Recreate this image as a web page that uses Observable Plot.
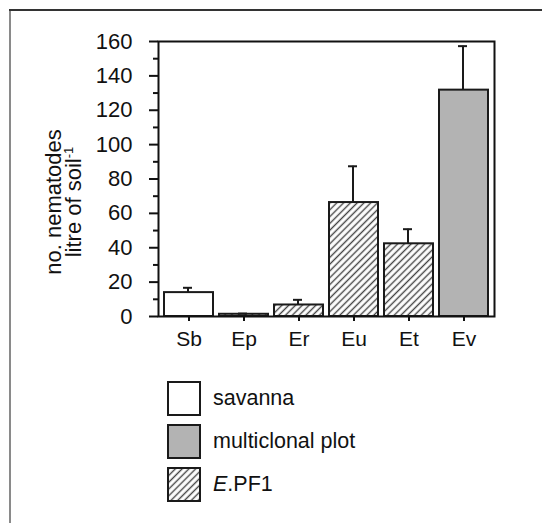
<!DOCTYPE html>
<html><head><meta charset="utf-8">
<script src="https://cdn.jsdelivr.net/npm/d3@7"></script>
<script src="https://cdn.jsdelivr.net/npm/@observablehq/plot@0.6"></script>
<style>
html,body{margin:0;padding:0;background:#fff;}
#page{position:relative;width:542px;height:523px;overflow:hidden;font-family:"Liberation Sans",Arial,sans-serif;background:#fff;}
#bl{position:absolute;left:9px;top:9px;width:2px;bottom:0;background:#8a8a8a;}
#bt{position:absolute;left:9px;top:9px;height:2px;right:0;background:#333;}
#chart{position:absolute;left:0;top:0;}
#legend{position:absolute;left:167px;top:381px;}
.item{display:flex;align-items:center;height:35px;margin-bottom:8px;}
.item svg{margin-right:12px;display:block}
.item span{font-size:21.5px;color:#111;white-space:nowrap}
</style></head>
<body>
<svg width="0" height="0" style="position:absolute">
  <defs>
    <pattern id="hatch" patternUnits="userSpaceOnUse" width="4.8" height="4.8" patternTransform="rotate(45)">
      <rect width="4.8" height="4.8" fill="#fff"/>
      <line x1="2.4" y1="0" x2="2.4" y2="4.8" stroke="#444" stroke-width="1.4"/>
    </pattern>
  </defs>
</svg>
<div id="page">
  <div id="bl"></div><div id="bt"></div>
  <div id="chart"></div>
  <div id="legend"></div>
</div>
<script>
const categories = ["Sb", "Ep", "Er", "Eu", "Et", "Ev"];
const means = [13.9, 1.3, 6.7, 66.3, 42.3, 131.7];
const errors = [2.8, 0.4, 3.0, 21.1, 8.5, 25.6];
const groups = ["savanna", "E.PF1", "E.PF1", "E.PF1", "E.PF1", "multiclonal plot"];
const yTicks = [0, 20, 40, 60, 80, 100, 120, 140, 160];
const yMinorTicks = [10, 30, 50, 70, 90, 110, 130, 150];
const legendGroups = ["savanna", "multiclonal plot", "E.PF1"];
const yTitle1 = "no. nematodes";
const yTitle2 = "litre of soil";
const yTitleSup = "-1";

const fills = {"savanna": "#ffffff", "multiclonal plot": "#b3b3b3", "E.PF1": "url(#hatch)"};
const data = categories.map((c, i) => ({cat: c, mean: means[i], err: errors[i], group: groups[i]}));

const barMarks = legendGroups.map(g => Plot.barY(data.filter(d => d.group === g), {
  x: "cat", y: "mean", fill: fills[g], stroke: "#1a1a1a", strokeWidth: 2
}));

const chart = Plot.plot({
  width: 542, height: 360,
  marginLeft: 158, marginRight: 48, marginTop: 41, marginBottom: 44,
  style: {fontFamily: "'Liberation Sans', Arial, sans-serif", color: "#111", background: "transparent"},
  x: {domain: categories, paddingInner: 0.11, paddingOuter: 0.06, label: null},
  y: {domain: [0, 160], label: null},
  marks: [
    Plot.axisY({ticks: yMinorTicks, tickSize: 5, tickFormat: () => "", strokeWidth: 2, label: null}),
    Plot.axisY({ticks: yTicks, tickSize: 9, tickPadding: 17, fontSize: 22, strokeWidth: 2, label: null}),
    Plot.axisX({tickSize: 5, tickPadding: 10, fontSize: 21, strokeWidth: 2, label: null}),
    ...barMarks,
    Plot.ruleX(data, {x: "cat", y1: "mean", y2: d => d.mean + d.err, stroke: "#1a1a1a", strokeWidth: 2, dx: -1}),
    Plot.tickY(data, {x: "cat", y: d => d.mean + d.err, insetLeft: 20, insetRight: 20, stroke: "#1a1a1a", strokeWidth: 2, dx: -1}),
    Plot.frame({stroke: "#111", strokeWidth: 2})
  ]
});
document.getElementById("chart").appendChild(chart);

const svg = d3.select(chart);
svg.append("text")
  .attr("transform", "translate(61,202) rotate(-90)")
  .attr("text-anchor", "middle")
  .attr("font-size", 22)
  .attr("fill", "#111")
  .text(yTitle1);
const t2 = svg.append("text")
  .attr("transform", "translate(81,202) rotate(-90)")
  .attr("text-anchor", "middle")
  .attr("font-size", 22)
  .attr("fill", "#111");
t2.append("tspan").text(yTitle2);
t2.append("tspan").attr("font-size", 13).attr("dy", -8).text(yTitleSup);

const legend = d3.select("#legend");
legendGroups.forEach(g => {
  const item = legend.append("div").attr("class", "item");
  const sw = item.append("svg").attr("width", 34).attr("height", 35);
  sw.append("rect").attr("x", 1).attr("y", 1).attr("width", 32).attr("height", 33)
    .attr("fill", fills[g]).attr("stroke", "#1a1a1a").attr("stroke-width", 2);
  const sp = item.append("span");
  if (g === "E.PF1") {
    sp.append("i").text("E");
    sp.append("span").text(".PF1");
  } else {
    sp.text(g);
  }
});
</script>
</body></html>
